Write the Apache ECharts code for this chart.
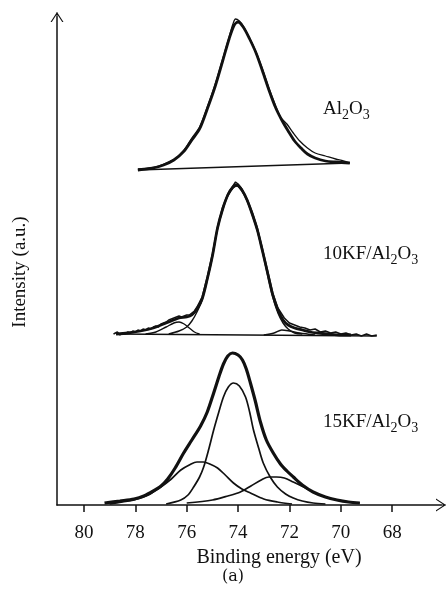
<!DOCTYPE html>
<html>
<head>
<meta charset="utf-8">
<script src="https://cdn.jsdelivr.net/npm/echarts@6/dist/echarts.min.js"></script>
<style>
  html, body { margin: 0; padding: 0; background: #fff; }
  #chart { width: 447px; height: 593px; }
</style>
</head>
<body>
<div id="chart"></div>
<script>
// Al 2p XPS spectra, stacked (binding energy in eV, intensity in a.u.)
const tickValues = [68, 70, 72, 74, 76, 78, 80];
const sampleNames = ['Al2O3', '10KF/Al2O3', '15KF/Al2O3'];

// Al2O3
const al2o3Baseline = [[77.9, 335], [69.65, 342]];
const al2o3Fit = [
  [77.9, 335], [77.3, 337], [76.9, 340], [76.5, 345], [76.1, 354], [75.8, 365],
  [75.5, 376], [75.2, 396], [74.9, 418], [74.6, 444], [74.35, 466], [74.15, 480],
  [74.0, 483], [73.8, 478], [73.55, 466], [73.3, 452], [73.05, 434], [72.8, 415],
  [72.55, 398], [72.3, 385], [72.05, 374], [71.8, 364], [71.55, 357], [71.3, 351],
  [71.0, 347], [70.6, 344], [70.2, 343], [69.65, 342]
];
const al2o3Raw = [
  [77.9, 336], [77.5, 337], [77.1, 339], [76.7, 343], [76.4, 347], [76.1, 355],
  [75.8, 367], [75.5, 378], [75.2, 398], [74.9, 420], [74.6, 446], [74.35, 468],
  [74.2, 481], [74.1, 486], [73.95, 484], [73.8, 479], [73.55, 467], [73.3, 453],
  [73.05, 436], [72.8, 417], [72.55, 400], [72.35, 388], [72.1, 381], [71.85, 372],
  [71.6, 364], [71.3, 357], [71.0, 352], [70.6, 349], [70.2, 346], [69.9, 344],
  [69.65, 342]
];

// 10KF/Al2O3
const kf10Baseline = [[78.75, 171], [68.6, 169]];
const kf10Raw = [
  [78.85, 171], [78.7, 173], [78.6, 170], [78.5, 172], [78.4, 171], [78.3, 173],
  [78.2, 172], [78.1, 174], [78.0, 173], [77.9, 175], [77.8, 174], [77.7, 176],
  [77.6, 175], [77.5, 177], [77.4, 176], [77.3, 178], [77.2, 179], [77.1, 178],
  [77.0, 181], [76.9, 182], [76.8, 183], [76.7, 185], [76.6, 186], [76.5, 187],
  [76.4, 188], [76.3, 189], [76.2, 188], [76.1, 189], [76.0, 190], [75.9, 190],
  [75.8, 192], [75.7, 194], [75.6, 198], [75.4, 208], [75.2, 228], [75.0, 251],
  [74.8, 278], [74.6, 298], [74.4, 311], [74.2, 319], [74.1, 323], [74.0, 321],
  [73.85, 316], [73.65, 306], [73.45, 293], [73.25, 277], [73.05, 256], [72.85, 234],
  [72.65, 212], [72.45, 197], [72.2, 187], [72.0, 182], [71.8, 180], [71.6, 178],
  [71.4, 177], [71.2, 175], [71.0, 176], [70.8, 173], [70.6, 174], [70.4, 172],
  [70.2, 173], [70.0, 171], [69.8, 172], [69.6, 170], [69.4, 171], [69.2, 169],
  [69.0, 171], [68.8, 169], [68.6, 170]
];
const kf10Fit = [
  [78.75, 171], [78.3, 172], [77.8, 174], [77.3, 177], [76.9, 181], [76.6, 184],
  [76.3, 187], [76.0, 188], [75.8, 190], [75.6, 196], [75.4, 206], [75.2, 226],
  [75.0, 249], [74.8, 277], [74.6, 296], [74.4, 310], [74.2, 318], [74.05, 320],
  [73.85, 315], [73.65, 305], [73.45, 291], [73.25, 275], [73.05, 254], [72.85, 232],
  [72.65, 210], [72.45, 195], [72.25, 185], [72.05, 180], [71.8, 177], [71.5, 175],
  [71.2, 173], [70.9, 172], [70.5, 171], [70.0, 170], [69.6, 170]
];
const kf10Main = [
  [76.7, 171], [76.3, 174], [76.0, 178], [75.8, 184], [75.6, 193], [75.4, 205],
  [75.2, 225], [75.0, 248], [74.8, 276], [74.6, 295], [74.4, 309], [74.2, 317],
  [74.05, 319], [73.85, 314], [73.65, 304], [73.45, 290], [73.25, 274], [73.05, 253],
  [72.85, 230], [72.65, 208], [72.45, 192], [72.25, 182], [72.05, 176], [71.8, 172],
  [71.5, 171]
];
const kf10Left = [
  [77.6, 171], [77.2, 173], [76.8, 178], [76.5, 182], [76.3, 183], [76.1, 181],
  [75.9, 177], [75.7, 173], [75.5, 171]
];
const kf10Right = [
  [73.0, 170], [72.6, 172], [72.3, 175], [72.0, 174], [71.6, 172], [71.0, 170]
];

// 15KF/Al2O3
const kf15Fit = [
  [79.2, 2], [78.6, 4], [78.05, 6], [77.67, 9], [77.3, 14], [77.0, 19], [76.74, 26],
  [76.45, 37], [76.12, 52], [75.8, 65], [75.46, 79], [75.2, 93], [74.95, 112],
  [74.75, 128], [74.57, 141], [74.4, 149], [74.22, 152], [74.0, 150], [73.83, 145],
  [73.68, 136], [73.52, 122], [73.33, 104], [73.13, 83], [72.9, 65], [72.63, 52],
  [72.35, 41], [72.1, 34], [71.85, 28], [71.5, 20], [71.08, 13], [70.6, 8],
  [70.15, 5], [69.7, 3], [69.26, 2]
];
const kf15Main = [
  [76.8, 1], [76.23, 5], [75.95, 10], [75.73, 18], [75.5, 28], [75.34, 38],
  [75.15, 55], [74.95, 75], [74.75, 93], [74.57, 108], [74.38, 118], [74.18, 122],
  [73.95, 119], [73.71, 108], [73.55, 93], [73.4, 75], [73.2, 57], [73.02, 42],
  [72.75, 28], [72.47, 18], [72.15, 11], [71.85, 7], [71.5, 4], [71.08, 2], [70.6, 1]
];
const kf15Left = [
  [79.0, 1], [78.5, 3], [78.05, 5], [77.5, 10], [77.01, 18], [76.6, 26], [76.23, 35],
  [75.9, 40], [75.6, 43], [75.35, 43], [75.1, 41], [74.8, 37], [74.5, 30], [74.18, 22],
  [73.85, 16], [73.52, 12], [73.0, 6], [72.47, 3], [71.9, 1]
];
const kf15Right = [
  [76.0, 2], [75.0, 5], [74.4, 9], [73.91, 13], [73.5, 19], [73.1, 25], [72.8, 28],
  [72.5, 28], [72.2, 27], [71.85, 23], [71.45, 18], [71.08, 13], [70.6, 8],
  [70.15, 5], [69.7, 3], [69.26, 2]
];

const SERIF = '"Liberation Serif", "DejaVu Serif", serif';
const INK = '#111';
// open chevron arrow head (tip at top) with a short stem so the axis line reaches the tip
const ARROW = 'path://M0,10 L6.5,0 L13,10 L11.7,10 L6.5,2 L1.3,10 Z M6,0 L7,0 L7,5 L6,5 Z';

function line(data, width, smooth) {
  return {
    type: 'line',
    data: data,
    showSymbol: false,
    smooth: smooth === undefined ? 0.3 : smooth,
    silent: true,
    animation: false,
    lineStyle: { color: INK, width: width },
    z: width > 2 ? 3 : 2
  };
}

function formula(name) {
  // render "Al2O3" style names with subscripted digits after element symbols
  const parts = name.split('/');
  const last = parts.pop();
  let out = parts.length ? '{n|' + parts.join('/') + '/}' : '';
  last.replace(/([A-Za-z]+)(\d*)/g, function (m, el, num) {
    out += '{n|' + el + '}';
    if (num) out += '{s|' + num + '}';
    return m;
  });
  return out;
}

const labelRich = {
  n: { fontSize: 19, fontFamily: SERIF, color: INK, lineHeight: 24, verticalAlign: 'bottom' },
  s: { fontSize: 14, fontFamily: SERIF, color: INK, lineHeight: 24, verticalAlign: 'bottom', padding: [0, 0, -3, 0] }
};
const labelY = [112, 257, 425];

const chart = echarts.init(document.getElementById('chart'), null, { renderer: 'canvas' });
chart.setOption({
  backgroundColor: '#fff',
  animation: false,
  grid: { left: 57, right: 6, top: 17, bottom: 88, containLabel: false, outerBoundsMode: 'none' },
  xAxis: {
    type: 'value',
    min: 66.1,
    max: 81.05,
    inverse: true,
    name: 'Binding energy (eV)',
    nameLocation: 'middle',
    nameGap: 35,
    nameTextStyle: { fontSize: 20, fontFamily: SERIF, color: INK, padding: [0, 0, 0, 60] },
    axisLine: {
      show: true,
      lineStyle: { color: INK, width: 1.5 },
      symbol: ['none', ARROW],
      symbolSize: [13, 10]
    },
    axisTick: { show: true, inside: false, length: 7, customValues: tickValues, lineStyle: { color: INK, width: 1.5 } },
    axisLabel: { customValues: tickValues, margin: 19, fontSize: 19, fontFamily: SERIF, color: INK },
    splitLine: { show: false }
  },
  yAxis: {
    type: 'value',
    min: 0,
    max: 488,
    name: 'Intensity (a.u.)',
    nameLocation: 'middle',
    nameGap: 27,
    nameTextStyle: { fontSize: 19, fontFamily: SERIF, color: INK, padding: [0, 22, 0, 0] },
    axisLine: {
      show: true,
      lineStyle: { color: INK, width: 1.5 },
      symbol: ['none', ARROW],
      symbolSize: [13, 10]
    },
    axisTick: { show: false },
    axisLabel: { show: false },
    splitLine: { show: false }
  },
  series: [
    line(al2o3Baseline, 1.6, false),
    line(al2o3Raw, 1.3),
    line(al2o3Fit, 2.8),
    line(kf10Baseline, 1.6, false),
    line(kf10Raw, 1.5, false),
    line(kf10Fit, 2.8),
    line(kf10Main, 1.4),
    line(kf10Left, 1.4),
    line(kf10Right, 1.4),
    line(kf15Main, 1.7),
    line(kf15Left, 1.7),
    line(kf15Right, 1.7),
    line(kf15Fit, 3.2)
  ],
  graphic: sampleNames.map(function (name, i) {
    return {
      type: 'text',
      left: 323,
      top: labelY[i] - 12,
      silent: true,
      style: { text: formula(name), rich: labelRich, fill: INK }
    };
  }).concat([{
    type: 'text',
    left: 222,
    top: 569,
    silent: true,
    style: { text: '(a)', fontSize: 16, fontFamily: '"DejaVu Serif", serif', fill: INK }
  }])
});
</script>
</body>
</html>
